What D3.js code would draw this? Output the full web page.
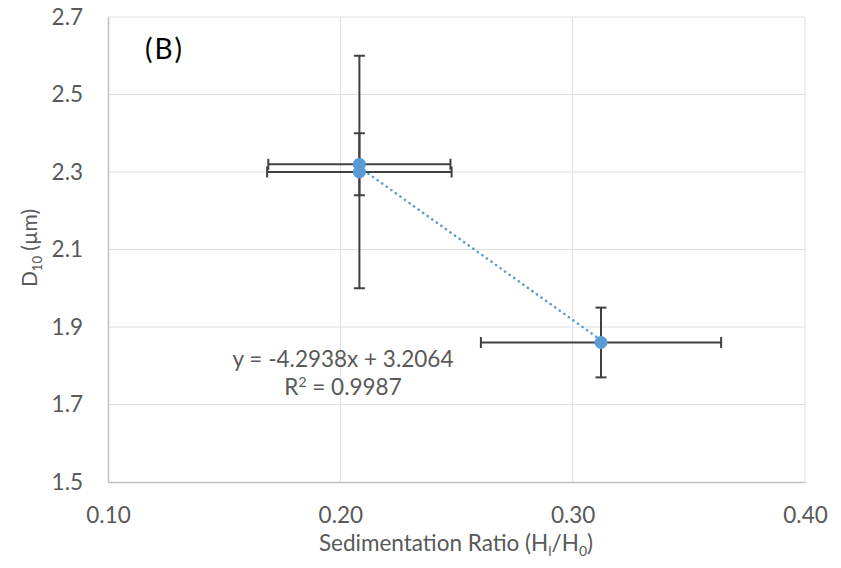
<!DOCTYPE html>
<html><head><meta charset="utf-8">
<script src="https://cdn.jsdelivr.net/npm/d3@7"></script>
<style>body{margin:0;background:#fff}text{font-family:Lato,"Open Sans",sans-serif}</style>
</head><body><svg id="c" width="841" height="568"></svg>
<script>
const xTicks = [0.10, 0.20, 0.30, 0.40];
const yTicks = [1.5, 1.7, 1.9, 2.1, 2.3, 2.5, 2.7];
const xValues = [0.2082, 0.2082, 0.3122];
const yValues = [2.32, 2.30, 1.86];
const xErrors = [0.0392, 0.0397, 0.0517];
const yErrors = [0.08, 0.30, 0.09];
const trendSlope = -4.2938, trendIntercept = 3.2064;
const equationText = "y = -4.2938x + 3.2064";
const r2Value = "0.9987";

const svg = d3.select("#c");
const L = 108, R = 805, T = 17, B = 482;
const x = d3.scaleLinear().domain([0.10, 0.40]).range([L, R]);
const y = d3.scaleLinear().domain([1.5, 2.7]).range([B, T]);
const FS = "22.5px", SUB = "14px";

// gridlines
svg.append("g").selectAll("line").data(yTicks.slice(1)).join("line")
  .attr("x1", L).attr("x2", R).attr("y1", d => y(d)).attr("y2", d => y(d))
  .attr("stroke", "#dedede").attr("stroke-width", 1);
svg.append("g").selectAll("line").data(xTicks.slice(1)).join("line")
  .attr("y1", T).attr("y2", B).attr("x1", d => x(d)).attr("x2", d => x(d))
  .attr("stroke", "#dedede").attr("stroke-width", 1);

// axes
const xa = svg.append("g").attr("transform", `translate(0,${B})`)
  .call(d3.axisBottom(x).tickValues(xTicks).tickFormat(d3.format(".2f")).tickSize(0).tickPadding(25));
const ya = svg.append("g").attr("transform", `translate(${L},0)`)
  .call(d3.axisLeft(y).tickValues(yTicks).tickFormat(d3.format(".1f")).tickSize(0).tickPadding(25));
[xa, ya].forEach(a => {
  a.select(".domain").attr("stroke", "#bfbfbf").attr("stroke-width", 1.5);
  a.selectAll("text").attr("fill", "#595959").style("font-size", FS).style("font-family", "Lato, sans-serif");
});

// trendline
const xs = d3.extent(xValues);
svg.append("line")
  .attr("x1", x(xs[0])).attr("y1", y(trendSlope * xs[0] + trendIntercept))
  .attr("x2", x(xs[1])).attr("y2", y(trendSlope * xs[1] + trendIntercept))
  .attr("stroke", "#5b9bd5").attr("stroke-width", 2.6).attr("stroke-linecap", "round")
  .attr("stroke-dasharray", "0.1,5.5");

// error bars
const eb = svg.append("g").attr("stroke", "#404040").attr("stroke-width", 2);
const cap = 5.5;
xValues.forEach((xv, i) => {
  const yv = yValues[i];
  eb.append("line").attr("x1", x(xv - xErrors[i])).attr("x2", x(xv + xErrors[i])).attr("y1", y(yv)).attr("y2", y(yv));
  [xv - xErrors[i], xv + xErrors[i]].forEach(e => eb.append("line").attr("x1", x(e)).attr("x2", x(e)).attr("y1", y(yv) - cap).attr("y2", y(yv) + cap));
  eb.append("line").attr("x1", x(xv)).attr("x2", x(xv)).attr("y1", y(yv - yErrors[i])).attr("y2", y(yv + yErrors[i]));
  [yv - yErrors[i], yv + yErrors[i]].forEach(e => eb.append("line").attr("y1", y(e)).attr("y2", y(e)).attr("x1", x(xv) - cap).attr("x2", x(xv) + cap));
});

// markers
svg.append("g").selectAll("circle").data(xValues).join("circle")
  .attr("cx", d => x(d)).attr("cy", (d, i) => y(yValues[i])).attr("r", 6.5)
  .attr("fill", "#5b9bd5");

// equation
svg.append("text").attr("x", 343).attr("y", 367).attr("text-anchor", "middle")
  .attr("fill", "#595959").style("font-size", FS).text(equationText);
const r2 = svg.append("text").attr("x", 343).attr("y", 395).attr("text-anchor", "middle")
  .attr("fill", "#595959").style("font-size", FS);
r2.append("tspan").text("R");
r2.append("tspan").attr("dy", -8).style("font-size", SUB).text("2");
r2.append("tspan").attr("dy", 8).text(" = " + r2Value);

// (B)
svg.append("text").attr("x", 145).attr("y", 59).attr("fill", "#000").style("font-size", "28px")
  .style("letter-spacing", "2px").text("(B)");

// axis titles
const xt = svg.append("text").attr("x", 456).attr("y", 551).attr("text-anchor", "middle")
  .attr("fill", "#595959").style("font-size", FS);
xt.append("tspan").text("Sedimentation Ratio (H");
xt.append("tspan").attr("dy", 5).style("font-size", SUB).text("l");
xt.append("tspan").attr("dy", -5).text("/H");
xt.append("tspan").attr("dy", 5).style("font-size", SUB).text("0");
xt.append("tspan").attr("dy", -5).text(")");

const yt = svg.append("text").attr("transform", "translate(37,248) rotate(-90)").attr("text-anchor", "middle")
  .attr("fill", "#595959").style("font-size", "21px");
yt.append("tspan").text("D");
yt.append("tspan").attr("dy", 5).style("font-size", "13px").text("10");
yt.append("tspan").attr("dy", -5).text(" (µm)");
</script></body></html>
